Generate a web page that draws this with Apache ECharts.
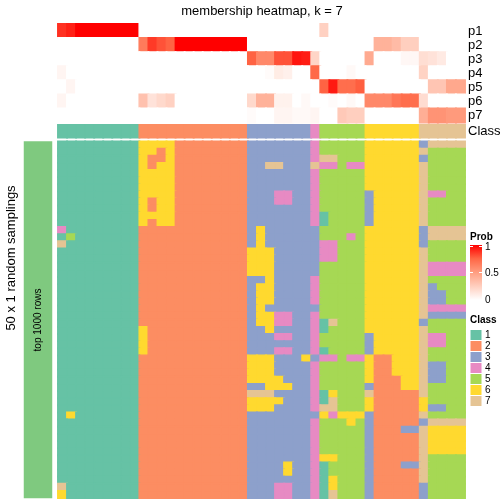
<!DOCTYPE html>
<html><head><meta charset="utf-8">
<script src="https://cdn.jsdelivr.net/npm/echarts@6/dist/echarts.min.js"></script>
<style>html,body{margin:0;padding:0;background:#fff}#c{width:504px;height:504px}</style>
</head><body><div id="c"></div>
<script>
// ---- data ----
const titleText = 'membership heatmap, k = 7';
const classColors = ['#66c2a5','#fc8d62','#8da0cb','#e78ac3','#a6d854','#ffd92f','#e5c494'];
const classLabels = ['1','2','3','4','5','6','7'];
const probRowLabels = ['p1','p2','p3','p4','p5','p6','p7'];
const probTicks = ['1','0.5','0'];
const columnClass = [1,1,1,1,1,1,1,1,1, 2,2,2,2,2,2,2,2,2,2,2,2, 3,3,3,3,3,3,3, 4, 5,5,5,5,5, 6,6,6,6,6,6, 7,7,7,7,7];
const p1 = [0.88,0.92,1,1,1,1,1,1,1, 0,0,0,0,0,0,0,0,0,0,0,0, 0,0,0,0,0,0,0, 0, 0.24,0,0,0,0, 0,0,0,0,0,0, 0,0,0,0,0];
const p2 = [0,0,0,0,0,0,0,0,0, 0.66,0.86,0.8,0.76,1,1,1,1,1,1,1,1, 0,0,0,0,0,0,0, 0, 0,0,0,0,0, 0,0.4,0.4,0.35,0.25,0.25, 0,0,0,0,0];
const p3 = [0,0,0,0,0,0,0,0,0, 0,0,0,0,0,0,0,0,0,0,0,0, 0.76,0.6,0.6,0.8,0.8,0.95,0.93, 0.22, 0,0,0,0,0, 0.44,0,0,0,0.04,0.04, 0.17,0.15,0.11,0,0];
const p4 = [0.05,0,0,0,0,0,0,0,0, 0,0,0,0,0,0,0,0,0,0,0,0, 0,0,0.02,0.1,0.08,0,0, 0.74, 0,0,0,0.03,0, 0,0,0,0,0,0, 0.23,0,0,0,0];
const p5 = [0,0.05,0,0,0,0,0,0,0, 0,0,0,0,0,0,0,0,0,0,0,0, 0,0,0,0,0,0,0, 0, 0.76,0.94,0.72,0.72,0.77, 0,0,0,0,0,0, 0,0.3,0.3,0.45,0.45];
const p6 = [0.05,0,0,0,0,0,0,0,0, 0.32,0.15,0.2,0.24,0,0,0,0,0,0,0,0, 0.2,0.4,0.4,0.07,0.07,0,0.03, 0, 0,0.02,0,0.03,0, 0.6,0.6,0.6,0.68,0.72,0.72, 0.18,0,0,0,0];
const p7 = [0,0,0,0,0,0,0,0,0, 0,0,0,0,0,0,0,0,0,0,0,0, 0.02,0,0,0.05,0.05,0.03,0.03, 0.05, 0,0,0.28,0.25,0.25, 0,0,0,0,0,0, 0.42,0.55,0.55,0.52,0.52];
const probRows = [p1,p2,p3,p4,p5,p6,p7];
const samplingRows = [
'111111111666622222222333333345555566666637777',
'111111111662622222222333333345555566666675555',
'111111111622622222222333333347755566666635555',
'111111111626622222222337733374454466666675555',
'111111111666622222222333333345555566666675555',
'111111111666622222222333333345555566666675555',
'111111111666622222222333333345555566666675555',
'111111111666622222222333443345555536666674455',
'111111111626622222222333443345555536666675555',
'111111111626622222222333333345555536666675555',
'111111111666622222222333333341555536666675555',
'111111111626622222222333333341555536666675555',
'411111111222222222222363333335555566666637777',
'151111111222222222222363333335554566666637777',
'711111111222222222222363333334455566666635555',
'111111111222222222222666333334455566666675555',
'111111111222222222222666333334455566666675555',
'111111111222222222222666333335555566666674444',
'111111111222222222222666333335555566666674444',
'111111111222222222222336333345555566666675555',
'111111111222222222222366333345555566666673555',
'111111111222222222222366333345555566666673355',
'111111111222222222222366333345555566666673355',
'111111111222222222222363333335555566666674444',
'111111111222222222222366443345555566666673333',
'111111111222222222222366443341755566666635555',
'111111111622222222222336333341555566666675555',
'111111111622222222222333443345555536666674455',
'111111111622222222222333333345555536666674455',
'111111111622222222222333443341555536666675555',
'111111111222222222222666333634454462266675555',
'111111111222222222222666333345555562266673355',
'111111111222222222222666333345555562266673355',
'111111111222222222222666633345555562226673355',
'111111111222222222222336663345555532226675555',
'111111111222222222222777333341655572222275555',
'111111111222222222222666633341755562222265555',
'111111111222222222222666333347755562222263355',
'161111111222222222222333333336466632222275555',
'111111111222222222222333333345556532222237777',
'111111111222222222222333333345555532223376666',
'111111111222222222222333333345555532222276666',
'111111111222222222222333333345555532222276666',
'111111111222222222222333333345555532222276666',
'111111111222222222222333333346655532222275555',
'111111111222222222222333363341555532223375555',
'111111111222222222222333363341555532222275555',
'111111111222222222222333333341655532222275555',
'711111111222222222222333443341655532222235555',
'611111111222222222222333443341755532222235555'
];
const leftBarValue = [8];

// ---- build ----
const FONT = 'Liberation Sans, Arial, Helvetica, sans-serif';
const probRamp = ['#ffffff', '#ffcfbf', '#ff9e81', '#ff6746', '#ff0000'];
const pieceColors = classColors.concat(['#7fc97f']);
const colCats = columnClass.map((_, i) => 'c' + i);
const rowCats = samplingRows.map((_, i) => 'r' + i);
function seam(col) { return {borderColor: col, borderWidth: 1.4}; }
const probData = [];
probRows.forEach((arr, r) => arr.forEach((v, c) => probData.push({value: [c, r, v], itemStyle: seam(echarts.color.lerp(v, probRamp))})));
const classData = columnClass.map((v, c) => ({value: [c, 0, v], itemStyle: seam(pieceColors[v - 1])}));
const mainData = [];
samplingRows.forEach((s, r) => { for (let c = 0; c < s.length; c++) { const v = +s[c]; mainData.push({value: [c, r, v], itemStyle: seam(pieceColors[v - 1])}); } });
const leftData = leftBarValue.map(v => ({value: [0, 0, v]}));

const gradStops = [
  {offset: 0, color: '#ff0000'}, {offset: 0.25, color: '#ff6746'},
  {offset: 0.5, color: '#ff9e81'}, {offset: 0.75, color: '#ffcfbf'}, {offset: 1, color: '#ffffff'}
];
const pieces = pieceColors.map((col, i) => ({value: i + 1, color: col}));

const hiddenAxis = {show: false};
const chart = echarts.init(document.getElementById('c'), null, {renderer: 'canvas', width: 504, height: 504});

const graphics = [
  {type: 'text', x: 262, y: 11, style: {text: titleText, font: '13px ' + FONT, fill: '#000', textAlign: 'center', textVerticalAlign: 'middle'}},
  {type: 'text', x: 11, y: 258, rotation: Math.PI / 2, style: {text: '50 x 1 random samplings', font: '13px ' + FONT, fill: '#000', textAlign: 'center', textVerticalAlign: 'middle'}},
  {type: 'text', x: 38, y: 320, rotation: Math.PI / 2, z: 100, style: {text: 'top 1000 rows', font: '10px ' + FONT, fill: '#000', textAlign: 'center', textVerticalAlign: 'middle'}},
  {type: 'text', x: 470, y: 237, style: {text: 'Prob', font: 'bold 10px ' + FONT, fill: '#000', textAlign: 'left', textVerticalAlign: 'middle'}},
  {type: 'rect', shape: {x: 470, y: 245, width: 12, height: 55}, style: {fill: {type: 'linear', x: 0, y: 0, x2: 0, y2: 1, colorStops: gradStops}}},
  {type: 'line', shape: {x1: 470, y1: 246.5, x2: 473, y2: 246.5}, style: {stroke: '#fff', lineWidth: 1}},
  {type: 'line', shape: {x1: 479, y1: 246.5, x2: 482, y2: 246.5}, style: {stroke: '#fff', lineWidth: 1}},
  {type: 'line', shape: {x1: 470, y1: 272.5, x2: 473, y2: 272.5}, style: {stroke: '#fff', lineWidth: 1}},
  {type: 'line', shape: {x1: 479, y1: 272.5, x2: 482, y2: 272.5}, style: {stroke: '#fff', lineWidth: 1}},
  {type: 'text', x: 485, y: 247, style: {text: probTicks[0], font: '10px ' + FONT, fill: '#000', textVerticalAlign: 'middle'}},
  {type: 'text', x: 485, y: 273, style: {text: probTicks[1], font: '10px ' + FONT, fill: '#000', textVerticalAlign: 'middle'}},
  {type: 'text', x: 485, y: 300, style: {text: probTicks[2], font: '10px ' + FONT, fill: '#000', textVerticalAlign: 'middle'}},
  {type: 'text', x: 470, y: 320, style: {text: 'Class', font: 'bold 10px ' + FONT, fill: '#000', textVerticalAlign: 'middle'}}
];
classColors.forEach((col, i) => {
  graphics.push({type: 'rect', shape: {x: 470, y: 329.5 + 11 * i, width: 12, height: 11}, style: {fill: col, stroke: '#fff', lineWidth: 1}});
  graphics.push({type: 'text', x: 485, y: 335.5 + 11 * i, style: {text: classLabels[i], font: '10px ' + FONT, fill: '#000', textVerticalAlign: 'middle'}});
});

chart.setOption({
  animation: false,
  backgroundColor: '#fff',
  grid: [
    {left: 58, top: 24, width: 407, height: 98.5},
    {left: 58, top: 125, width: 407, height: 12.5},
    {left: 58, top: 141.5, width: 407, height: 356.5},
    {left: 24, top: 141.5, width: 28, height: 356.5}
  ],
  xAxis: [
    {gridIndex: 0, type: 'category', data: colCats, ...hiddenAxis},
    {gridIndex: 1, type: 'category', data: colCats, ...hiddenAxis},
    {gridIndex: 2, type: 'category', data: colCats, ...hiddenAxis},
    {gridIndex: 3, type: 'category', data: ['bar'], ...hiddenAxis}
  ],
  yAxis: [
    {gridIndex: 0, type: 'category', data: probRowLabels, inverse: true, position: 'right',
     axisLine: {show: false}, axisTick: {show: false}, splitLine: {show: false},
     axisLabel: {interval: 0, fontSize: 13, color: '#000', margin: 3, fontFamily: FONT}},
    {gridIndex: 1, type: 'category', data: ['Class'], position: 'right',
     axisLine: {show: false}, axisTick: {show: false}, splitLine: {show: false},
     axisLabel: {interval: 0, fontSize: 13, color: '#000', margin: 3, fontFamily: FONT}},
    {gridIndex: 2, type: 'category', data: rowCats, inverse: true, ...hiddenAxis},
    {gridIndex: 3, type: 'category', data: ['bar'], ...hiddenAxis}
  ],
  visualMap: [
    {type: 'continuous', show: false, min: 0, max: 1, seriesIndex: 0, dimension: 2,
     inRange: {color: probRamp}},
    {type: 'piecewise', show: false, seriesIndex: [1, 2, 3], dimension: 2, pieces: pieces}
  ],
  series: [
    {type: 'heatmap', xAxisIndex: 0, yAxisIndex: 0, data: probData, progressive: 0, emphasis: {disabled: true}},
    {type: 'heatmap', xAxisIndex: 1, yAxisIndex: 1, data: classData, progressive: 0, emphasis: {disabled: true}},
    {type: 'heatmap', xAxisIndex: 2, yAxisIndex: 2, data: mainData, progressive: 0, emphasis: {disabled: true}},
    {type: 'heatmap', xAxisIndex: 3, yAxisIndex: 3, data: leftData, progressive: 0, emphasis: {disabled: true}}
  ],
  graphic: graphics
});
</script></body></html>
